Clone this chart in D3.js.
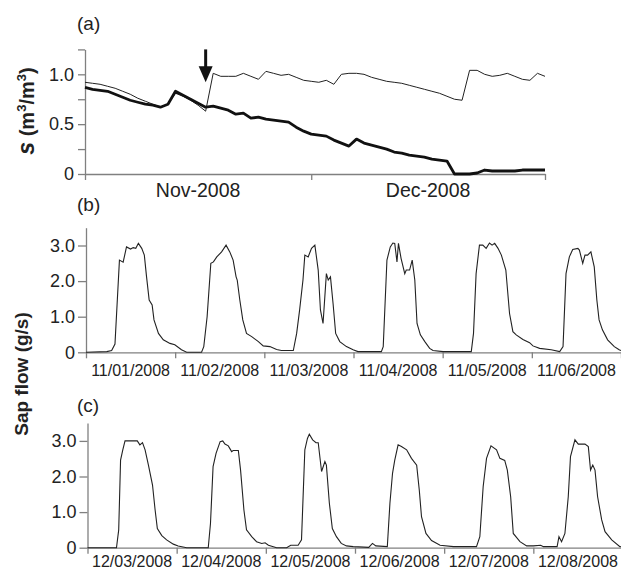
<!DOCTYPE html>
<html>
<head>
<meta charset="utf-8">
<script src="https://cdn.jsdelivr.net/npm/d3@7"></script>
<style>
  body { margin: 0; background: #fff; }
  svg { display: block; font-family: "Liberation Sans", Arial, sans-serif; }
  .axis path, .axis line { stroke: #808080; stroke-width: 1.3; }
  .axis text { fill: #222; }
</style>
</head>
<body>
<div id="chart"></div>
<script>
// ---- panel (a): soil moisture, one value per day from 1 Nov 2008
var soilDays = d3.range(0, 62);
var soilIrrigated = [0.92,0.91,0.90,0.88,0.86,0.83,0.80,0.76,0.73,0.70,0.67,0.70,0.81,0.78,0.74,0.69,0.63,
  1.01,0.98,0.98,0.98,1.01,0.98,0.95,1.03,1.01,0.99,1.00,0.97,0.94,0.93,0.92,0.94,0.90,1.00,1.01,1.01,1.00,
  0.97,0.95,0.93,0.92,0.91,0.89,0.87,0.85,0.83,0.81,0.78,0.75,0.74,1.04,1.04,1.00,0.98,0.99,1.01,0.98,0.95,
  0.94,1.01,0.98];
var soilDrying = [0.87,0.85,0.84,0.83,0.80,0.77,0.74,0.72,0.70,0.69,0.67,0.70,0.83,0.79,0.75,0.71,0.67,
  0.68,0.66,0.64,0.60,0.61,0.56,0.57,0.55,0.54,0.53,0.52,0.47,0.43,0.40,0.39,0.38,0.34,0.31,0.28,0.35,0.31,
  0.29,0.27,0.25,0.22,0.21,0.19,0.18,0.17,0.15,0.14,0.13,0.00,0.00,0.00,0.01,0.04,0.03,0.03,0.03,0.03,0.04,
  0.04,0.04,0.04];
var monthTicks = [0, 30, 61];
var monthLabels = ["Nov-2008", "Dec-2008"];
var arrowDay = 16;

// ---- panel (b): sap flow 1-6 Nov 2008, [hour from start, g/s]
var sapNov = [[0,0],[5.6,0.02],[6.9,0.05],[7.8,0.23],[9.0,2.59],[10,2.53],[10.9,2.96],[12,2.9],[12.7,2.94],
  [13.4,2.92],[14.1,3.06],[15,2.92],[15.7,2.73],[16.3,2.12],[17,1.47],[17.8,1.33],[18.3,0.91],[19.5,0.53],
  [20.8,0.35],[22.6,0.25],[23.9,0.21],[25.7,0.07],[27.1,0],[31.1,0],[31.7,0.16],[32.6,1.0],[33.6,2.5],
  [34.3,2.54],[35.2,2.68],[36.5,2.82],[37.7,3.01],[38.7,2.82],[39.6,2.59],[40.4,2.12],[40.7,2.03],[41.4,1.47],
  [42.2,0.91],[43.2,0.53],[44.6,0.44],[46.4,0.3],[47.7,0.18],[49.5,0.16],[51.3,0.08],[52.6,0.05],[55.8,0.05],
  [56.7,0.53],[57.5,1.19],[58.4,2.03],[58.9,2.73],[59.8,2.68],[60.7,2.92],[61.6,3.01],[62.5,2.31],[63.1,1.19],
  [63.8,0.81],[64.7,2.21],[65.2,2.03],[65.8,2.12],[66.5,1.37],[67.2,0.53],[68.3,0.3],[70.1,0.16],[71.9,0.07],
  [73.2,0.02],[79.5,0.02],[80,0.16],[81,2.59],[81.9,2.96],[82.6,3.07],[83.1,3.06],[83.7,2.54],[84.1,3.06],
  [84.8,2.64],[85.8,2.21],[86.2,2.31],[87.1,2.31],[87.8,2.59],[88.5,2.03],[89.1,0.81],[90,0.49],[91.2,0.3],
  [92.5,0.11],[93.4,0.05],[96.1,0.02],[103.7,0.02],[104.3,0.53],[105,2.21],[105.9,3.01],[106.8,3.01],
  [107.7,2.92],[108.6,3.07],[109.3,3.01],[110,3.06],[110.9,2.92],[111.8,2.73],[113,2.31],[114,1.09],
  [114.9,0.58],[115.8,0.49],[117.6,0.36],[119.4,0.27],[120.3,0.18],[122.1,0.11],[125.2,0.07],[127.5,0.02],
  [128.4,0.16],[129.2,2.21],[130.1,2.68],[131,2.89],[132.4,2.92],[132.8,2.87],[133.7,2.5],[134.3,2.73],
  [135,2.73],[135.9,2.82],[136.8,2.4],[137.5,1.47],[138.1,0.91],[139,0.63],[140.4,0.35],[142.2,0.16],
  [143.5,0.07],[144,0.05]];
var sapNovLabels = ["11/01/2008","11/02/2008","11/03/2008","11/04/2008","11/05/2008","11/06/2008"];

// ---- panel (c): sap flow 3-8 Dec 2008, [hour from start, g/s]
var sapDec = [[0,0],[7.8,0],[8.4,0.5],[8.9,2.46],[9.5,2.75],[10.1,3.0],[13.4,3.0],[14.1,2.89],[14.8,2.95],
  [15.5,2.75],[16.4,2.32],[17.5,1.76],[18.2,1.06],[18.8,0.54],[20,0.34],[21.3,0.22],[23.1,0.1],[24.4,0.05],
  [26.7,0],[32.5,0],[33.1,0.68],[33.8,2.28],[34.6,2.65],[35.7,2.98],[36.4,3.0],[37,2.91],[37.9,2.86],
  [38.8,2.7],[39.2,2.73],[40.6,2.73],[41.2,2.18],[42.1,1.06],[42.8,0.5],[44.2,0.31],[45.5,0.17],[46.9,0.12],
  [47.8,0.14],[48.7,0.07],[50.9,0],[53.6,0],[54.7,0.07],[56.7,0.07],[57.6,0.22],[58.5,2.75],[59.2,3.07],
  [59.7,3.19],[60.6,3.03],[61.5,2.95],[62.1,2.95],[63,2.14],[63.9,2.42],[64.3,2.32],[65.1,1.25],[65.9,0.54],
  [67,0.31],[68.3,0.12],[69.7,0.05],[71.5,0.03],[75.7,0.01],[76.7,0.12],[77.6,0.05],[80.7,0.03],[81.4,1.25],
  [82.1,2.09],[82.7,2.46],[83.6,2.89],[84.5,2.84],[85.9,2.75],[87.2,2.51],[88.6,2.32],[89.3,1.62],[89.9,0.87],
  [91.1,0.4],[92.6,0.2],[94.9,0.07],[98.5,0.03],[104.7,0.03],[105.6,0.31],[106.5,1.72],[107.4,2.51],
  [108.6,2.86],[110.1,2.75],[111,2.51],[112.3,2.45],[113,2.18],[113.9,1.43],[114.6,0.4],[116.4,0.17],
  [118.2,0.05],[120,0.05],[122,0.07],[122.7,0.03],[126.4,0.03],[126.9,0.31],[127.6,0.17],[128.5,0.4],
  [129.4,1.43],[130,2.56],[131.2,3.03],[132.1,2.91],[133.9,2.91],[134.8,2.84],[135.4,2.18],[136,2.32],
  [136.6,2.18],[137.3,1.43],[138.4,0.78],[139.3,0.45],[141.1,0.22],[143.3,0.03],[144,0.02]];
var sapDecLabels = ["12/03/2008","12/04/2008","12/05/2008","12/06/2008","12/07/2008","12/08/2008"];

var sapTicks = [0, 1, 2, 3];
var sapTickLabels = ["0", "1.0", "2.0", "3.0"];
var dayTicks = d3.range(0, 145, 24);

var W = 621, H = 572;
var svg = d3.select("#chart").append("svg").attr("width", W).attr("height", H);

function styleAxis(g) {
  g.attr("font-family", null).attr("font-size", null);
  g.selectAll("text").attr("font-size", 18).attr("x", -11);
}

// ---------- panel (a)
var xa = d3.scaleLinear().domain([0, 61]).range([85, 545]);
var ya = d3.scaleLinear().domain([0, 1.25]).range([174, 49.4]);

svg.append("g").attr("class", "axis")
  .attr("transform", "translate(85,0)")
  .call(d3.axisLeft(ya).tickValues([0, 0.25, 0.5, 0.75, 1, 1.25]).tickSize(7).tickSizeOuter(0)
    .tickFormat(function(d) { return d === 0 ? "0" : (d === 0.5 || d === 1) ? d.toFixed(1) : ""; }))
  .call(styleAxis);

svg.append("g").attr("class", "axis")
  .attr("transform", "translate(0,174)")
  .call(d3.axisBottom(xa).tickValues(monthTicks).tickSize(6).tickSizeOuter(0).tickFormat(""));

svg.selectAll(".monthlab").data(monthLabels).enter().append("text")
  .attr("x", function(d, i) { return (xa(monthTicks[i]) + xa(monthTicks[i + 1])) / 2; })
  .attr("y", 197).attr("text-anchor", "middle").attr("font-size", 19.5).attr("fill", "#222")
  .text(function(d) { return d; });

var lineA = d3.line().x(function(d) { return xa(d[0]); }).y(function(d) { return ya(d[1]); });
svg.append("path").datum(soilDays.map(function(d, i) { return [d, soilIrrigated[i]]; }))
  .attr("d", lineA).attr("fill", "none").attr("stroke", "#222").attr("stroke-width", 1);
svg.append("path").datum(soilDays.map(function(d, i) { return [d, soilDrying[i]]; }))
  .attr("d", lineA).attr("fill", "none").attr("stroke", "#111").attr("stroke-width", 2.8)
  .attr("stroke-linejoin", "round");

// arrow marking start of drying
var ax = xa(arrowDay);
svg.append("line").attr("x1", ax).attr("x2", ax).attr("y1", ya(1.25)).attr("y2", ya(1.0))
  .attr("stroke", "#111").attr("stroke-width", 3);
svg.append("path")
  .attr("d", "M" + (ax - 7) + "," + ya(1.08) + "L" + (ax + 7) + "," + ya(1.08) + "L" + ax + "," + ya(0.92) + "Z")
  .attr("fill", "#111");

svg.append("text").attr("x", 77).attr("y", 30).attr("font-size", 19).attr("fill", "#222").text("(a)");

var ylabA = svg.append("text").attr("transform", "translate(34,111) rotate(-90)")
  .attr("text-anchor", "middle").attr("font-weight", "bold").attr("font-size", 20).attr("fill", "#222");
ylabA.append("tspan").attr("font-style", "italic").attr("font-size", 23).text("s");
ylabA.append("tspan").text(" (m");
ylabA.append("tspan").attr("font-size", 13).attr("dy", -8).text("3");
ylabA.append("tspan").attr("dy", 8).text("/m");
ylabA.append("tspan").attr("font-size", 13).attr("dy", -8).text("3");
ylabA.append("tspan").attr("dy", 8).text(")");

// ---------- sap flow panels
function sapPanel(data, labels, x0, y0, tag, tagY, labY) {
  var x = d3.scaleLinear().domain([0, 144]).range([x0, x0 + 535]);
  var y = d3.scaleLinear().domain([0, 3.5]).range([y0, y0 - 124.6]);

  svg.append("g").attr("class", "axis")
    .attr("transform", "translate(" + x0 + ",0)")
    .call(d3.axisLeft(y).tickValues(sapTicks).tickSize(8).tickSizeOuter(0)
      .tickFormat(function(d, i) { return sapTickLabels[i]; }))
    .call(styleAxis);

  svg.append("g").attr("class", "axis")
    .attr("transform", "translate(0," + y0 + ")")
    .call(d3.axisBottom(x).tickValues(dayTicks).tickSize(6).tickSizeOuter(0).tickFormat(""));

  svg.append("g").selectAll("text").data(labels).enter().append("text")
    .attr("x", function(d, i) { return x(dayTicks[i] + 12); })
    .attr("y", labY).attr("text-anchor", "middle").attr("font-size", 16).attr("fill", "#222")
    .text(function(d) { return d; });

  svg.append("path").datum(data)
    .attr("d", d3.line().x(function(d) { return x(d[0]); }).y(function(d) { return y(d[1]); }))
    .attr("fill", "none").attr("stroke", "#222").attr("stroke-width", 1.1);

  svg.append("text").attr("x", 77).attr("y", tagY).attr("font-size", 19).attr("fill", "#222").text(tag);
}

sapPanel(sapNov, sapNovLabels, 86, 352.3, "(b)", 211, 376);
sapPanel(sapDec, sapDecLabels, 87.5, 547.7, "(c)", 412, 567);

svg.append("text").attr("transform", "translate(28,374) rotate(-90)")
  .attr("text-anchor", "middle").attr("font-weight", "bold").attr("font-size", 19).attr("fill", "#222")
  .text("Sap flow (g/s)");
</script>
</body>
</html>
